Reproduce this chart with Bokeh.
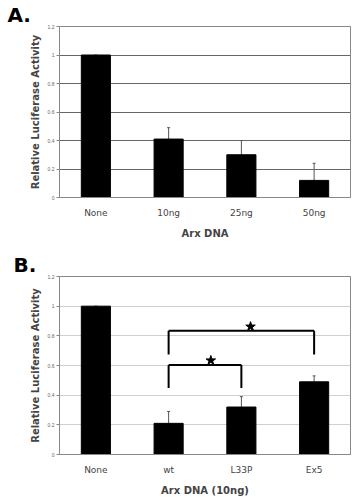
from bokeh.plotting import figure
from bokeh.models import ColumnDataSource, Whisker, TeeHead, FixedTicker
from bokeh.layouts import column
from bokeh.transform import dodge
from bokeh.embed import file_html
from bokeh.resources import INLINE

# ---------------- data ----------------
a_cats = ["None", "10ng", "25ng", "50ng"]
a_vals = [1.0, 0.41, 0.30, 0.12]
a_err_top = [1.0, 0.49, 0.40, 0.24]

b_cats = ["None", "wt", "L33P", "Ex5"]
b_vals = [1.0, 0.21, 0.32, 0.49]
b_err_top = [1.0, 0.29, 0.39, 0.53]

y_ticks = [0, 0.2, 0.4, 0.6, 0.8, 1.0, 1.2]
y_tick_labels = ["0", "0.2", "0.4", "0.6", "0.8", "1", "1.2"]

# significance brackets (panel B)
br_left = ["wt", "wt"]
br_right = ["Ex5", "L33P"]
br_top = [0.835, 0.603]
br_bottom = [0.674, 0.449]
star_x = ["L33P", "wt"]
star_dx = [0.126, 0.58]
star_y = [0.862, 0.634]

FONT = "DejaVu Sans"


def make_panel(cats, vals, errs, width, height, borders, xlabel, panel, gridcolor,
               title_offset):
    left, right, top, bottom = borders
    p = figure(x_range=cats, y_range=(0, 1.2), width=width, height=height,
               output_backend="svg", toolbar_location=None,
               min_border_left=left, min_border_right=right,
               min_border_top=top, min_border_bottom=bottom)
    p.title.text = panel
    p.title.text_font = FONT
    p.title.text_font_style = "bold"
    p.title.text_font_size = "20px"
    p.title.text_color = "black"
    p.title.align = "left"
    p.title.offset = title_offset
    p.title.standoff = 0

    p.outline_line_color = "#888888"
    p.outline_line_width = 1
    p.xgrid.grid_line_color = None
    p.ygrid.grid_line_color = gridcolor
    p.ygrid.grid_line_width = 1
    p.yaxis.ticker = FixedTicker(ticks=y_ticks)
    p.yaxis.major_label_overrides = {t: l for t, l in zip(y_ticks, y_tick_labels)}
    p.yaxis.major_label_text_font_size = "5px"
    p.yaxis.major_label_text_color = "#666666"
    p.yaxis.major_tick_out = 3
    p.yaxis.major_tick_in = 0
    p.yaxis.minor_tick_line_color = None
    p.yaxis.major_tick_line_color = "#888888"
    p.yaxis.axis_line_color = "#888888"
    p.yaxis.major_label_standoff = 2
    p.yaxis.axis_label = "Relative Luciferase Activity"
    p.yaxis.axis_label_text_font = FONT
    p.yaxis.axis_label_text_font_style = "bold"
    p.yaxis.axis_label_text_font_size = "10px"
    p.yaxis.axis_label_standoff = 4

    p.xaxis.axis_line_color = "#888888"
    p.xaxis.major_tick_line_color = None
    p.xaxis.major_tick_out = 0
    p.xaxis.major_tick_in = 0
    p.xaxis.major_label_text_font = FONT
    p.xaxis.major_label_text_font_size = "9px"
    p.xaxis.major_label_text_color = "#444444"
    p.xaxis.major_label_standoff = 10
    p.xaxis.axis_label = xlabel
    p.xaxis.axis_label_text_font = FONT
    p.xaxis.axis_label_text_font_style = "bold"
    p.xaxis.axis_label_text_font_size = "10px"
    p.xaxis.axis_label_standoff = 7

    src = ColumnDataSource(dict(x=cats, top=vals, err=errs))
    p.vbar(x="x", top="top", width=0.4, source=src, fill_color="black",
           line_color="black")
    w = Whisker(base="x", upper="err", lower="top", source=src,
                line_color="#555555", line_width=1,
                upper_head=TeeHead(size=3, line_color="#555555", line_width=1),
                lower_head=None)
    p.add_layout(w)
    return p


pa = make_panel(a_cats, a_vals, a_err_top, 360, 250, (55, 10, 24, 53),
                "Arx DNA", "A.", "#666666", -52)
pb = make_panel(b_cats, b_vals, b_err_top, 360, 248, (59, 2, 26, 41),
                "Arx DNA (10ng)", "B.", "#d0d0d0", -46)

# brackets
bsrc = ColumnDataSource(dict(x0=br_left, x1=br_right, top=br_top, bottom=br_bottom))
pb.segment(x0="x0", y0="top", x1="x1", y1="top", source=bsrc, line_color="black",
           line_width=2)
pb.segment(x0="x0", y0="top", x1="x0", y1="bottom", source=bsrc, line_color="black",
           line_width=2)
pb.segment(x0="x1", y0="top", x1="x1", y1="bottom", source=bsrc, line_color="black",
           line_width=2)

for i in range(len(star_x)):
    s = ColumnDataSource(dict(x=[star_x[i]], y=[star_y[i]]))
    pb.scatter(x=dodge("x", star_dx[i], range=pb.x_range), y="y", source=s,
               marker="star", size=10, fill_color="black", line_color="black")

layout = column(pa, pb, spacing=0)
open("out.html", "w").write(file_html(layout, INLINE))
